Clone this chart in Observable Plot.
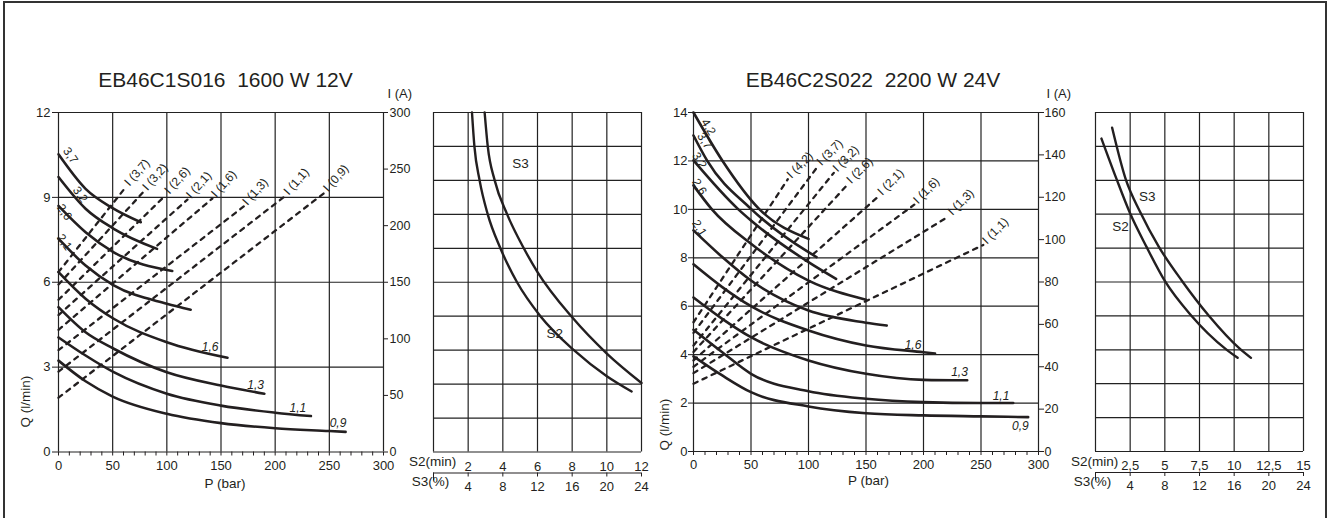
<!DOCTYPE html>
<html><head><meta charset="utf-8">
<script src="https://cdn.jsdelivr.net/npm/d3@7"></script>
<script src="https://cdn.jsdelivr.net/npm/@observablehq/plot@0.6"></script>
<style>
html,body{margin:0;padding:0;background:#fff;}
#wrap{position:relative;width:1330px;height:518px;overflow:hidden;font-family:"Liberation Sans",Arial,Helvetica,sans-serif;color:#231f20;background:#fff;}
#frame{position:absolute;left:3px;top:1px;width:1324px;height:560px;border:2px solid #333;border-bottom:none;box-sizing:border-box;}
.title{position:absolute;font-size:21px;line-height:21px;white-space:pre;transform:translateX(-50%);}
</style></head>
<body><div id="wrap"><div id="frame"></div></div>
<script>
// ---------------- DATA ----------------
// Panel 1: EB46C1S016 1600 W 12V  — Q (l/min) vs P (bar), one curve per displacement (cc)
const title1 = "EB46C1S016  1600 W 12V";
const c1_37 = [[0,10.52],[25,9.3],[50,8.62],[76,8.12]];
const c1_32 = [[0,9.72],[25,8.6],[51,7.89],[91,7.18]];
const c1_26 = [[0,8.7],[25,7.77],[51,7.06],[105,6.4]];
const c1_21 = [[0,7.54],[25,6.59],[51,5.89],[100,5.24],[122,5.03]];
const c1_16 = [[0,6.36],[25,5.42],[51,4.71],[100,3.88],[156,3.33]];
const c1_13 = [[0,5.12],[25,4.23],[51,3.65],[100,2.82],[150,2.35],[190,2.06]];
const c1_11 = [[0,4.05],[25,3.41],[51,2.82],[100,2.06],[150,1.64],[200,1.39],[233,1.27]];
const c1_09 = [[0,3.23],[25,2.5],[50,1.96],[100,1.35],[150,1.02],[200,0.84],[250,0.74],[265,0.71]];
const disp1 = ["3,7","3,2","2,6","2,1","1,6","1,3","1,1","0,9"];
const curves1 = [c1_37,c1_32,c1_26,c1_21,c1_16,c1_13,c1_11,c1_09];
// curve labels [P, Q]
const lblLeft1 = ["3,7","3,2","2,6","2,1"];
const lblLeft1Pos = [[11,10.48],[20,9.1],[5.5,8.48],[5.5,7.42]];
const lblRight1 = ["1,6","1,3","1,1","0,9"];
const lblRight1Pos = [[140,3.71],[182,2.38],[221,1.56],[258,1.03]];
// current lines I (A) vs P: start current at P=0, end pressure, end current
const dash1 = ["3,7","3,2","2,6","2,1","1,6","1,3","1,1","0,9"];
const dash1I0 = [159,148,134.5,121,108,90,71,48];
const dash1Pend = [62,78.5,99,119,142,171,209,245.5];
const dash1Iend = [234,230,227,223,224,217,226,229];
const ticksP = [0,50,100,150,200,250,300];
const minorP = d3.range(0,301,10);
const ticksQ1 = [0,3,6,9,12];
const ticksI1 = [0,50,100,150,200,250,300];

// Panel 2: duty cycle, I (A) vs S2 (min)
const gridS2a = [0,2,4,6,8,10,12];
const gridI2 = [0,30,60,90,120,150,180,210,240,270,300];
const labS2a = [2,4,6,8,10,12];
const labS3a = [4,8,12,16,20,24];
const s2curveA = [[2.22,300],[2.36,270],[2.66,240],[3.13,210],[3.86,180],[4.82,150],[6.17,120],[8.1,90],[10,67],[11.43,53.5]];
const s3curveA = [[2.95,300],[3.13,270],[3.53,240],[4.25,210],[5.21,180],[6,159],[8,119],[10,87],[12,61]];
const sLabA = ["S3","S2"];
const sLabAPos = [[5.02,255],[7.0,104.5]];

// Panel 3: EB46C2S022 2200 W 24V
const title3 = "EB46C2S022  2200 W 24V";
const c3_42 = [[0,14.0],[25,12.02],[57,10.02],[100,8.78]];
const c3_37 = [[0,13.05],[12,12.0],[50,10.02],[100,8.23],[107,8.03]];
const c3_32 = [[0,12.02],[39,10.0],[50,9.54],[100,7.82],[124,7.13]];
const c3_26 = [[0,10.99],[16,10.0],[50,8.58],[100,7.06],[150,6.27]];
const c3_21 = [[0,9.13],[25,8.03],[50,7.06],[100,5.82],[150,5.32],[168,5.2]];
const c3_16 = [[0,7.73],[25,6.79],[50,6.0],[100,5.0],[150,4.38],[200,4.1],[210,4.05]];
const c3_13 = [[0,6.36],[25,5.48],[50,4.72],[100,3.76],[150,3.21],[200,2.96],[238,2.94]];
const c3_11 = [[0,5.03],[25,4.1],[50,3.21],[100,2.49],[150,2.18],[200,2.04],[250,2.0],[278,2.0]];
const c3_09 = [[0,3.93],[25,3.14],[50,2.45],[100,1.86],[150,1.58],[200,1.49],[250,1.45],[291,1.42]];
const disp3 = ["4,2","3,7","3,2","2,6","2,1","1,6","1,3","1,1","0,9"];
const curves3 = [c3_42,c3_37,c3_32,c3_26,c3_21,c3_16,c3_13,c3_11,c3_09];
const lblLeft3 = ["4,2","3,7","3,2","2,6","2,1"];
const lblLeft3Pos = [[13,13.4],[9.6,12.83],[5.2,12.02],[5.2,10.93],[5.2,9.23]];
const lblRight3 = ["1,6","1,3","1,1","0,9"];
const lblRight3Pos = [[190.9,4.38],[231.3,3.26],[267.4,2.3],[284.3,1.03]];
const dash3 = ["4,2","3,7","3,2","2,6","2,1","1,6","1,3","1,1"];
const dash3I0 = [61,56,50,47,43,40,37,32];
const dash3Pend = [82,108,122,134,161,192,222,252];
const dash3Iend = [128.5,134.5,131.5,126,120.5,116.5,111,97.5];
const ticksQ3 = [0,2,4,6,8,10,12,14];
const ticksI3 = [0,20,40,60,80,100,120,140,160];

// Panel 4: duty cycle, I (A) vs S2 (min)
const gridS2b = [0,2.5,5,7.5,10,12.5,15];
const gridI4 = [0,16,32,48,64,80,96,112,128,144,160];
const labS2b = [2.5,5,7.5,10,12.5,15];
const labS3b = [4,8,12,16,20,24];
const s2curveB = [[0.43,147.7],[1.5,128.9],[2.47,112.8],[3.67,96.7],[5.0,80.5],[6.9,64.2],[9.4,48.3],[10.25,44.2]];
const s3curveB = [[1.2,152.8],[2.16,128.9],[3.24,112.8],[4.56,96.7],[6.24,80.5],[8.16,64.2],[10.44,48.3],[11.21,44.2]];
const sLabB = ["S3","S2"];
const sLabBPos = [[3.74,120.4],[1.8,106.2]];

// ---------------- STYLE ----------------
const FONT = '"Liberation Sans", Arial, Helvetica, sans-serif';
const INK = "#231f20";
const GRID = "#222";
const comma = v => String(v).replace(".", ",");
const baseStyle = {background: "transparent", color: INK, fontFamily: FONT, fontSize: "13px", overflow: "visible"};
const wrap = document.getElementById("wrap");
function place(svg, left) {
  svg.style.position = "absolute"; svg.style.left = left + "px"; svg.style.top = "0px";
  wrap.appendChild(svg);
}
function title(text, cx) {
  const d = document.createElement("div");
  d.className = "title"; d.textContent = text;
  d.style.left = cx + "px"; d.style.top = "69px";
  wrap.appendChild(d);
}
const rowsOf = (names, arrs) => names.flatMap((d, k) => arrs[k].map(([P, Q]) => ({d, P, Q})));
const labRows = (names, pos) => names.map((t, k) => ({t, x: pos[k][0], y: pos[k][1]}));
const dashRows = (names, i0, pe, ie) => names.flatMap((d, k) => [{d, P: 0, I: i0[k]}, {d, P: pe[k], I: ie[k]}]);
const dashTops = (names, pe, ie) => names.map((d, k) => ({t: `I (${d})`, P: pe[k], I: ie[k]}));

// --------- pressure panel (Q plot + I overlay) ---------
function pressurePanel(o) {
  const geom = {width: o.width, height: 518, marginLeft: o.ml, marginRight: o.mr, marginTop: 112, marginBottom: o.mb};
  const q = Plot.plot({
    ...geom, style: baseStyle,
    x: {domain: [0, 300]}, y: {domain: [0, o.qmax]},
    marks: [
      Plot.ruleX(ticksP, {stroke: GRID, strokeWidth: 1.2}),
      Plot.ruleY(o.gridQ, {stroke: GRID, strokeWidth: 1.2}),
      Plot.axisX({ticks: minorP, tickSize: 4, tickPadding: 4.5, tickFormat: d => d % 50 === 0 ? String(d) : "", label: null}),
      Plot.axisY({ticks: o.gridQ, tickSize: o.lts, tickPadding: o.ltp, label: null}),
      Plot.line(rowsOf(o.disp, o.curves), {x: "P", y: "Q", z: "d", curve: "monotone-x", stroke: INK, strokeWidth: 2.6}),
      Plot.text(labRows(o.lblL, o.lblLPos), {x: "x", y: "y", text: "t", rotate: o.rotL, fontSize: 12}),
      Plot.text(labRows(o.lblR, o.lblRPos), {x: "x", y: "y", text: "t", fontSize: 12, fontStyle: "italic"}),
      Plot.text(["Q (l/min)"], {text: d => d, frameAnchor: "bottom-left", rotate: -90, textAnchor: "start", dx: o.qdx, dy: o.qdy, fontSize: 13.5}),
      Plot.text(["P (bar)"], {text: d => d, frameAnchor: "bottom", dx: o.pdx, dy: o.pdy, fontSize: 13.5})
    ]
  });
  const i = Plot.plot({
    ...geom, style: baseStyle,
    x: {domain: [0, 300], axis: null}, y: {domain: [0, o.imax]},
    marks: [
      Plot.axisY({anchor: "right", ticks: o.ticksI, tickSize: o.rts, tickPadding: o.rtp, label: null, fontSize: 12.5}),
      Plot.line(dashRows(o.dash, o.i0, o.pe, o.ie), {x: "P", y: "I", z: "d", stroke: INK, strokeWidth: 2.3, strokeDasharray: "4.5,5.5"}),
      Plot.text(dashTops(o.dash, o.pe, o.ie), {x: "P", y: "I", text: "t", rotate: o.rotD, textAnchor: "start", dx: 1, dy: -3, fontSize: 12}),
      Plot.text(["I (A)"], {text: d => d, frameAnchor: "top-right", textAnchor: "start", dx: o.iadx, dy: -24, fontSize: 13})
    ]
  });
  place(q, o.left); place(i, o.left);
}

// --------- duty-cycle panel ---------
function dutyPanel(o) {
  const s3pos = o.labS3.map(v => v / o.ratio);
  const p = Plot.plot({
    width: o.width, height: 518, marginLeft: o.ml, marginRight: o.mr, marginTop: 112, marginBottom: o.mb,
    style: baseStyle,
    x: {domain: [0, o.xmax]}, y: {domain: [0, o.imax], axis: null},
    marks: [
      Plot.ruleX(o.gridS, {stroke: GRID, strokeWidth: 1.2}),
      Plot.ruleY(o.gridI, {stroke: GRID, strokeWidth: 1.2}),
      Plot.line([...o.s2.map(([x, y]) => ({x, y, z: "S2"})), ...o.s3.map(([x, y]) => ({x, y, z: "S3"}))],
        {x: "x", y: "y", z: "z", curve: "monotone-x", stroke: INK, strokeWidth: 2.4}),
      Plot.text(labRows(o.sLab, o.sLabPos), {x: "x", y: "y", text: "t", fontSize: 13.5}),
      Plot.axisX({ticks: o.labS2, tickSize: 0, tickPadding: 9.5, tickFormat: comma, label: null}),
      Plot.ruleY([0], {dy: 21, stroke: INK, strokeWidth: 1.2}),
      Plot.axisX({ticks: s3pos, tickSize: 4, tickPadding: 4.5, dy: 21, tickFormat: v => comma(Math.round(v * o.ratio)), label: null}),
      Plot.axisX({ticks: [0], tickSize: 8, dy: 21, tickFormat: () => "", label: null}),
      Plot.text(["S2(min)"], {text: d => d, frameAnchor: "bottom-left", textAnchor: "middle", dx: -1, dy: 14, fontSize: 13.5}),
      Plot.text(["S3(%)"], {text: d => d, frameAnchor: "bottom-left", textAnchor: "middle", dx: -3, dy: 34, fontSize: 13.5})
    ]
  });
  place(p, o.left);
}

pressurePanel({
  left: 0, width: 420, ml: 58, mr: 37, mb: 66.5, qmax: 12, imax: 300,
  gridQ: ticksQ1, ticksI: ticksI1, lts: 6, ltp: 2, rts: 4, rtp: 2,
  disp: disp1, curves: curves1, lblL: lblLeft1, lblLPos: lblLeft1Pos, rotL: 55,
  lblR: lblRight1, lblRPos: lblRight1Pos,
  dash: dash1, i0: dash1I0, pe: dash1Pend, ie: dash1Iend, rotD: -48,
  qdx: -28.5, qdy: -24.5, pdx: 4, pdy: 36, iadx: 4
});
dutyPanel({
  left: 395, width: 265, ml: 38, mr: 19, mb: 66.5, xmax: 12, imax: 300, ratio: 2,
  gridS: gridS2a, gridI: gridI2, labS2: labS2a, labS3: labS3a,
  s2: s2curveA, s3: s3curveA, sLab: sLabA, sLabPos: sLabAPos
});
pressurePanel({
  left: 630, width: 440, ml: 63, mr: 32, mb: 67, qmax: 14, imax: 160,
  gridQ: ticksQ3, ticksI: ticksI3, lts: 5, ltp: 1, rts: 5, rtp: 1,
  disp: disp3, curves: curves3, lblL: lblLeft3, lblLPos: lblLeft3Pos, rotL: 58,
  lblR: lblRight3, lblRPos: lblRight3Pos,
  dash: dash3, i0: dash3I0, pe: dash3Pend, ie: dash3Iend, rotD: -45,
  qdx: -25, qdy: -1, pdx: 2.5, pdy: 33, iadx: 8
});
dutyPanel({
  left: 1060, width: 270, ml: 35, mr: 27, mb: 67, xmax: 15, imax: 160, ratio: 1.6,
  gridS: gridS2b, gridI: gridI4, labS2: labS2b, labS3: labS3b,
  s2: s2curveB, s3: s3curveB, sLab: sLabB, sLabPos: sLabBPos
});
title(title1, 225.5);
title(title3, 873);
</script>
</body></html>
